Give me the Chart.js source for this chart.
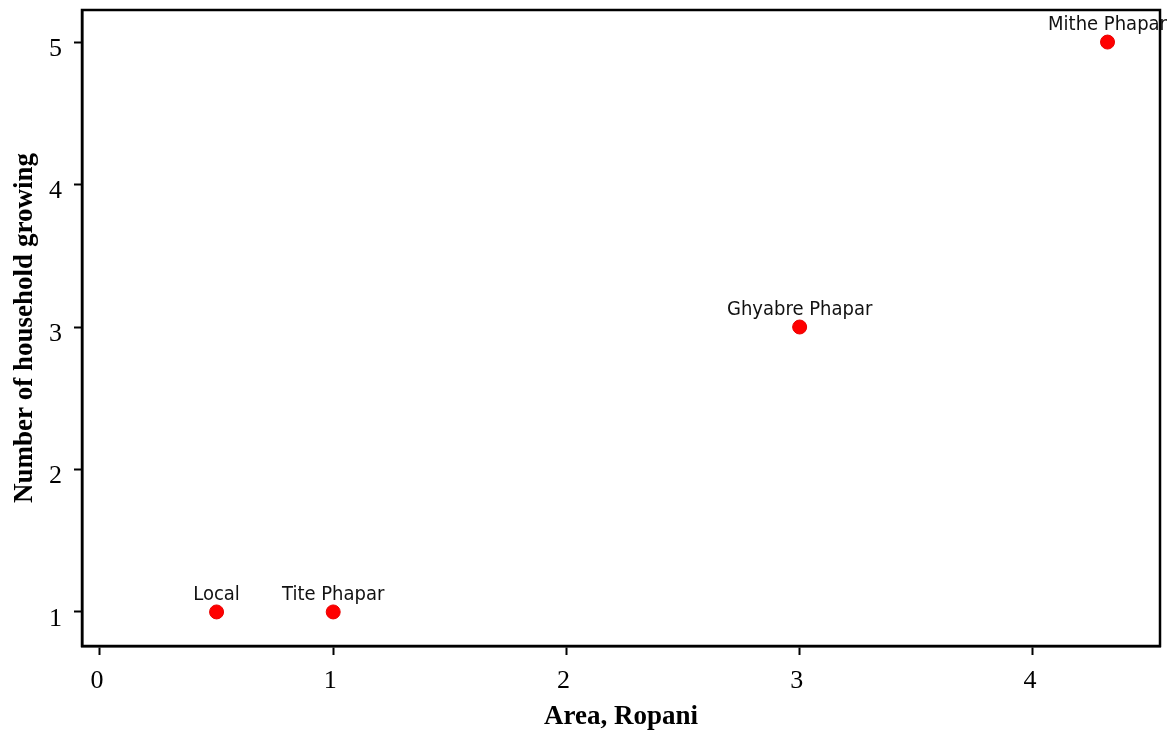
<!DOCTYPE html>
<html>
<head>
<meta charset="utf-8">
<script src="https://cdn.jsdelivr.net/npm/chart.js@4"></script>
<style>
    html, body { margin: 0; padding: 0; background: #ffffff; }
    #wrap { width: 1172px; height: 736px; }
</style>
</head>
<body>
<div id="wrap"><canvas id="chart" width="1172" height="736"></canvas></div>
<script>
    // data
    const varieties = ["Local", "Tite Phapar", "Ghyabre Phapar", "Mithe Phapar"];
    const areaRopani = [0.5, 1, 3, 4.32];
    const households = [1, 1, 3, 5];
    const xTicks = [0, 1, 2, 3, 4];
    const yTicks = [1, 2, 3, 4, 5];

    const serif = "'Liberation Serif', 'Times New Roman', serif";
    const labelFont = "20px 'DejaVu Sans Condensed', 'Liberation Sans', sans-serif";

    const frame = {
        id: "frame",
        afterDraw: (chart) => {
            const { ctx, chartArea: a } = chart;
            ctx.save();
            ctx.strokeStyle = "#000";
            ctx.lineWidth = 2.5;
            ctx.strokeRect(a.left, a.top, a.right - a.left, a.bottom - a.top);
            ctx.restore();
        }
    };

    const pointLabels = {
        id: "pointLabels",
        afterDatasetsDraw: (chart) => {
            const { ctx } = chart;
            const meta = chart.getDatasetMeta(0);
            ctx.save();
            ctx.font = labelFont;
            ctx.fillStyle = "#111";
            ctx.textAlign = "center";
            ctx.textBaseline = "alphabetic";
            meta.data.forEach((pt, i) => {
                ctx.fillText(varieties[i], pt.x, pt.y - 12);
            });
            ctx.restore();
        }
    };

    new Chart(document.getElementById("chart"), {
        type: "scatter",
        data: {
            datasets: [{
                data: areaRopani.map((x, i) => ({ x, y: households[i] })),
                backgroundColor: "#ff0000",
                borderColor: "#e80000",
                borderWidth: 1,
                pointRadius: 7,
                pointHoverRadius: 7
            }]
        },
        options: {
            responsive: false,
            animation: false,
            events: [],
            layout: { padding: { top: 10, right: 12, left: 0, bottom: 0 } },
            plugins: { legend: { display: false }, tooltip: { enabled: false } },
            scales: {
                x: {
                    type: "linear",
                    min: -0.077,
                    max: 4.545,
                    afterBuildTicks: (scale) => { scale.ticks = xTicks.map((v) => ({ value: v })); },
                    afterFit: (scale) => {
                        scale.height = 90;
                        scale.paddingLeft = 0;
                        scale.paddingRight = 0;
                    },
                    border: { display: true, color: "#000", width: 2.5 },
                    grid: { drawOnChartArea: false, drawTicks: true, tickLength: 9, tickColor: "#000", tickWidth: 2 },
                    ticks: { color: "#000", font: { family: serif, size: 26 }, padding: 11, labelOffset: -3, maxRotation: 0 },
                    title: {
                        display: true,
                        text: "Area, Ropani",
                        color: "#000",
                        font: { family: serif, size: 27, weight: "bold" },
                        padding: { top: 0, bottom: 3 }
                    }
                },
                y: {
                    type: "linear",
                    min: 0.761,
                    max: 5.225,
                    afterBuildTicks: (scale) => { scale.ticks = yTicks.map((v) => ({ value: v })); },
                    afterFit: (scale) => {
                        scale.width = 82;
                        scale.paddingTop = 0;
                        scale.paddingBottom = 0;
                    },
                    border: { display: true, color: "#000", width: 2.5 },
                    grid: { drawOnChartArea: false, drawTicks: true, tickLength: 8, tickColor: "#000", tickWidth: 2 },
                    ticks: { color: "#000", font: { family: serif, size: 26 }, padding: 12, labelOffset: 7 },
                    title: {
                        display: true,
                        text: "Number of household growing",
                        color: "#000",
                        font: { family: serif, size: 27, weight: "bold" },
                        padding: { top: 9, bottom: 0 }
                    }
                }
            }
        },
        plugins: [frame, pointLabels]
    });
</script>
</body>
</html>
